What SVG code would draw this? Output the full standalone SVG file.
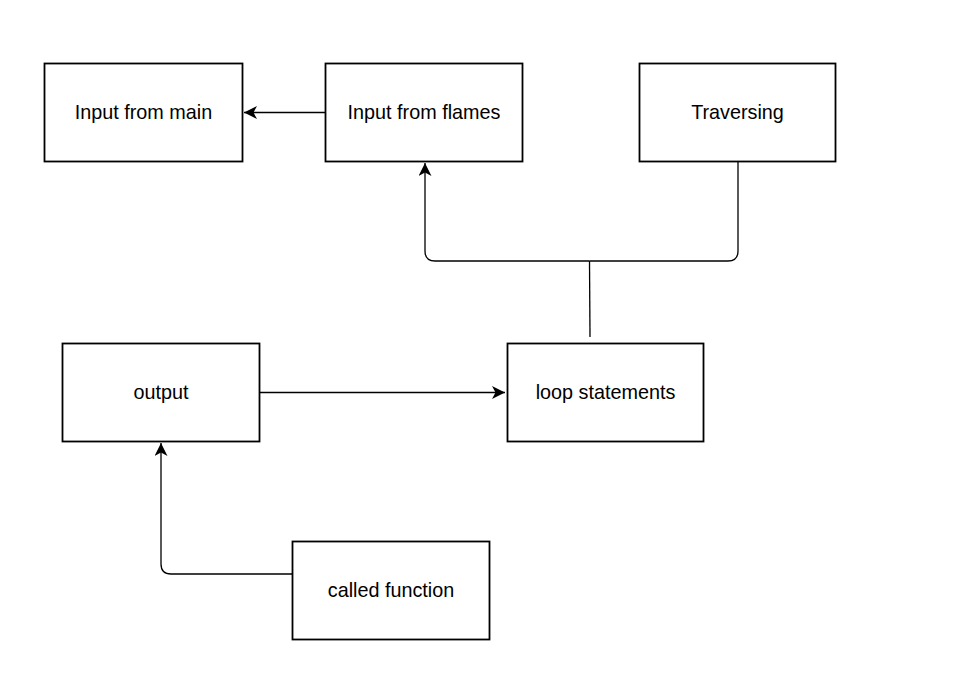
<svg xmlns="http://www.w3.org/2000/svg" width="975" height="676" viewBox="0 0 975 676">
<style>
.box{fill:#fff;stroke:#000;stroke-width:1.8}
.lbl{font-family:"Liberation Sans",Arial,sans-serif;font-size:19.8px;fill:#000;text-anchor:middle}
.conn{fill:none;stroke:#000;stroke-width:1.3}
</style>
<defs>
<marker id="arr" markerUnits="userSpaceOnUse" markerWidth="16" markerHeight="14" refX="13" refY="6.5" orient="auto">
<path d="M0,0 L13,6.5 L0,13 L3.5,6.5 Z" fill="#000"/>
</marker>
</defs>
<rect width="975" height="676" fill="#fff"/>
<g id="connectors">
<path class="conn" d="M325,112.5 L244,112.5" marker-end="url(#arr)"/>
<path class="conn" d="M590,337 L589.5,261"/>
<path class="conn" d="M589.5,261 L435,261 Q425,261 425,251 L425,163" marker-end="url(#arr)"/>
<path class="conn" d="M589.5,261 L728,261 Q738,261 738,251 L738,162"/>
<path class="conn" d="M260,392.5 L505,392.5" marker-end="url(#arr)"/>
<path class="conn" d="M292,574 L171,574 Q161,574 161,564 L161,443" marker-end="url(#arr)"/>
</g>
<g id="node-input-main">
<rect class="box" x="44.5" y="63.5" width="198" height="98"/>
<text class="lbl" x="143.5" y="119">Input from main</text>
</g>
<g id="node-input-flames">
<rect class="box" x="325.5" y="63.5" width="197" height="98"/>
<text class="lbl" x="424" y="119">Input from flames</text>
</g>
<g id="node-traversing">
<rect class="box" x="639.5" y="63.5" width="196" height="98"/>
<text class="lbl" x="737.5" y="119">Traversing</text>
</g>
<g id="node-output">
<rect class="box" x="62.5" y="343.5" width="197" height="98"/>
<text class="lbl" x="161" y="399">output</text>
</g>
<g id="node-loop">
<rect class="box" x="507.5" y="343.5" width="196" height="98"/>
<text class="lbl" x="605.5" y="399">loop statements</text>
</g>
<g id="node-called">
<rect class="box" x="292.5" y="541.5" width="197" height="98"/>
<text class="lbl" x="391" y="597">called function</text>
</g>
</svg>
